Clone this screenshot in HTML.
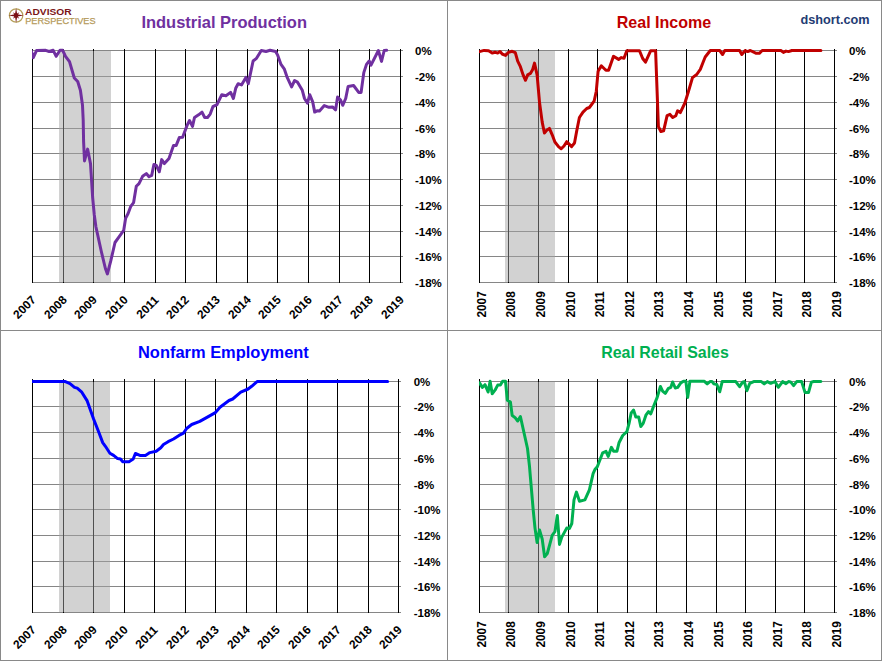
<!DOCTYPE html>
<html lang="en"><head><meta charset="utf-8"><title>Big Four Indicators: Percent Off High</title>
<style>html,body{margin:0;padding:0;background:#fff}svg{display:block}text{font-family:"Liberation Sans",Arial,sans-serif}</style></head><body>
<svg width="882" height="661" viewBox="0 0 882 661">
<rect x="0" y="0" width="882" height="661" fill="#fff"/>
<g>
<line x1="32.5" y1="50.5" x2="403" y2="50.5" stroke="#868686" stroke-width="1" shape-rendering="crispEdges"/>
<line x1="32.5" y1="76.5" x2="403" y2="76.5" stroke="#868686" stroke-width="1" shape-rendering="crispEdges"/>
<line x1="32.5" y1="102.5" x2="403" y2="102.5" stroke="#868686" stroke-width="1" shape-rendering="crispEdges"/>
<line x1="32.5" y1="128.5" x2="403" y2="128.5" stroke="#868686" stroke-width="1" shape-rendering="crispEdges"/>
<line x1="32.5" y1="153.5" x2="403" y2="153.5" stroke="#868686" stroke-width="1" shape-rendering="crispEdges"/>
<line x1="32.5" y1="179.5" x2="403" y2="179.5" stroke="#868686" stroke-width="1" shape-rendering="crispEdges"/>
<line x1="32.5" y1="205.5" x2="403" y2="205.5" stroke="#868686" stroke-width="1" shape-rendering="crispEdges"/>
<line x1="32.5" y1="231.5" x2="403" y2="231.5" stroke="#868686" stroke-width="1" shape-rendering="crispEdges"/>
<line x1="32.5" y1="256.5" x2="403" y2="256.5" stroke="#868686" stroke-width="1" shape-rendering="crispEdges"/>
<line x1="32.5" y1="282.5" x2="403" y2="282.5" stroke="#868686" stroke-width="1" shape-rendering="crispEdges"/>
<line x1="32.5" y1="49" x2="32.5" y2="283" stroke="#000" stroke-width="1" shape-rendering="crispEdges"/>
<line x1="63.5" y1="49" x2="63.5" y2="283" stroke="#000" stroke-width="1" shape-rendering="crispEdges"/>
<line x1="93.5" y1="49" x2="93.5" y2="283" stroke="#000" stroke-width="1" shape-rendering="crispEdges"/>
<line x1="124.5" y1="49" x2="124.5" y2="283" stroke="#000" stroke-width="1" shape-rendering="crispEdges"/>
<line x1="155.5" y1="49" x2="155.5" y2="283" stroke="#000" stroke-width="1" shape-rendering="crispEdges"/>
<line x1="185.5" y1="49" x2="185.5" y2="283" stroke="#000" stroke-width="1" shape-rendering="crispEdges"/>
<line x1="216.5" y1="49" x2="216.5" y2="283" stroke="#000" stroke-width="1" shape-rendering="crispEdges"/>
<line x1="247.5" y1="49" x2="247.5" y2="283" stroke="#000" stroke-width="1" shape-rendering="crispEdges"/>
<line x1="277.5" y1="49" x2="277.5" y2="283" stroke="#000" stroke-width="1" shape-rendering="crispEdges"/>
<line x1="308.5" y1="49" x2="308.5" y2="283" stroke="#000" stroke-width="1" shape-rendering="crispEdges"/>
<line x1="339.5" y1="49" x2="339.5" y2="283" stroke="#000" stroke-width="1" shape-rendering="crispEdges"/>
<line x1="369.5" y1="49" x2="369.5" y2="283" stroke="#000" stroke-width="1" shape-rendering="crispEdges"/>
<line x1="400.5" y1="49" x2="400.5" y2="283" stroke="#000" stroke-width="1" shape-rendering="crispEdges"/>
<rect x="59" y="51" width="52" height="231" fill="rgb(163,163,163)" fill-opacity="0.49"/>
<clipPath id="c0"><rect x="32" y="47" width="369" height="236"/></clipPath>
<path d="M31.2 50.5 L33.3 57.6 L36.6 50.4 L45.7 50.3 L49.1 51.5 L53.2 50.3 L56.2 56.3 L60.0 50.3 L62.7 50.3 L65.5 56.3 L69.5 61.7 L74.3 78.0 L77.7 81.5 L80.4 90.3 L82.5 105.3 L83.2 120.0 L83.6 141.8 L84.5 160.9 L87.6 149.1 L90.5 163.6 L92.7 198.1 L94.3 215.0 L95.9 226.7 L101.2 251.0 L105.4 268.5 L107.4 273.9 L110.7 261.2 L115.0 242.5 L119.2 236.7 L123.7 230.4 L125.6 218.2 L128.1 213.5 L130.8 206.3 L133.6 202.6 L136.3 186.3 L139.0 183.6 L142.6 176.3 L146.3 173.6 L149.0 176.7 L151.7 175.4 L153.9 164.5 L156.3 165.4 L159.3 171.8 L161.7 159.6 L164.4 163.6 L169.0 158.5 L173.5 145.4 L176.2 145.4 L179.3 137.6 L182.6 137.3 L187.1 125.4 L189.5 120.5 L192.5 126.4 L194.5 117.5 L198.6 114.8 L202.0 112.1 L204.7 117.5 L207.5 117.5 L210.2 114.1 L212.9 106.7 L217.0 104.6 L221.8 94.7 L225.9 95.8 L230.6 92.4 L233.4 98.5 L235.7 88.3 L238.1 83.8 L241.5 84.9 L245.9 77.4 L248.3 83.8 L253.1 61.0 L256.5 58.3 L261.3 50.5 L266.0 51.5 L270.1 50.3 L275.6 51.5 L277.6 54.9 L281.0 64.4 L284.4 69.2 L287.2 77.4 L291.6 86.9 L294.6 80.5 L297.4 82.1 L302.3 90.3 L304.5 98.5 L307.5 103.2 L309.7 94.7 L312.7 101.9 L314.7 112.1 L317.5 110.7 L319.5 111.0 L324.3 105.6 L329.0 107.3 L332.5 106.9 L335.6 109.8 L337.6 97.1 L340.6 100.1 L342.7 105.3 L345.7 98.5 L348.1 86.5 L353.6 85.5 L358.7 92.4 L361.1 92.4 L363.8 72.6 L366.5 64.4 L369.2 61.0 L371.0 65.1 L378.4 50.5 L381.5 61.4 L384.2 50.5 L386.6 50.3" clip-path="url(#c0)" fill="none" stroke="#7030A0" stroke-width="3" stroke-linejoin="round" stroke-linecap="round"/>
<text x="224.2" y="28" text-anchor="middle" font-size="16.5" font-weight="bold" fill="#7030A0" textLength="165.6" lengthAdjust="spacingAndGlyphs">Industrial Production</text>
<text x="415" y="55.1" font-size="11.5" font-weight="bold" fill="#000">0%</text>
<text x="415" y="81.1" font-size="11.5" font-weight="bold" fill="#000">-2%</text>
<text x="415" y="107.1" font-size="11.5" font-weight="bold" fill="#000">-4%</text>
<text x="415" y="133.1" font-size="11.5" font-weight="bold" fill="#000">-6%</text>
<text x="415" y="158.1" font-size="11.5" font-weight="bold" fill="#000">-8%</text>
<text x="415" y="184.1" font-size="11.5" font-weight="bold" fill="#000">-10%</text>
<text x="415" y="210.1" font-size="11.5" font-weight="bold" fill="#000">-12%</text>
<text x="415" y="236.1" font-size="11.5" font-weight="bold" fill="#000">-14%</text>
<text x="415" y="261.1" font-size="11.5" font-weight="bold" fill="#000">-16%</text>
<text x="415" y="287.1" font-size="11.5" font-weight="bold" fill="#000">-18%</text>
<text transform="translate(24.5 307.2) rotate(-45)" x="0" y="4" text-anchor="middle" font-size="11.9" font-weight="bold" fill="#000">2007</text>
<text transform="translate(55.5 307.2) rotate(-45)" x="0" y="4" text-anchor="middle" font-size="11.9" font-weight="bold" fill="#000">2008</text>
<text transform="translate(85.5 307.2) rotate(-45)" x="0" y="4" text-anchor="middle" font-size="11.9" font-weight="bold" fill="#000">2009</text>
<text transform="translate(116.5 307.2) rotate(-45)" x="0" y="4" text-anchor="middle" font-size="11.9" font-weight="bold" fill="#000">2010</text>
<text transform="translate(147.5 307.2) rotate(-45)" x="0" y="4" text-anchor="middle" font-size="11.9" font-weight="bold" fill="#000">2011</text>
<text transform="translate(177.5 307.2) rotate(-45)" x="0" y="4" text-anchor="middle" font-size="11.9" font-weight="bold" fill="#000">2012</text>
<text transform="translate(208.5 307.2) rotate(-45)" x="0" y="4" text-anchor="middle" font-size="11.9" font-weight="bold" fill="#000">2013</text>
<text transform="translate(239.5 307.2) rotate(-45)" x="0" y="4" text-anchor="middle" font-size="11.9" font-weight="bold" fill="#000">2014</text>
<text transform="translate(269.5 307.2) rotate(-45)" x="0" y="4" text-anchor="middle" font-size="11.9" font-weight="bold" fill="#000">2015</text>
<text transform="translate(300.5 307.2) rotate(-45)" x="0" y="4" text-anchor="middle" font-size="11.9" font-weight="bold" fill="#000">2016</text>
<text transform="translate(331.5 307.2) rotate(-45)" x="0" y="4" text-anchor="middle" font-size="11.9" font-weight="bold" fill="#000">2017</text>
<text transform="translate(361.5 307.2) rotate(-45)" x="0" y="4" text-anchor="middle" font-size="11.9" font-weight="bold" fill="#000">2018</text>
<text transform="translate(392.5 307.2) rotate(-45)" x="0" y="4" text-anchor="middle" font-size="11.9" font-weight="bold" fill="#000">2019</text>
</g>
<g>
<line x1="479.5" y1="50.5" x2="837" y2="50.5" stroke="#868686" stroke-width="1" shape-rendering="crispEdges"/>
<line x1="479.5" y1="76.5" x2="837" y2="76.5" stroke="#868686" stroke-width="1" shape-rendering="crispEdges"/>
<line x1="479.5" y1="102.5" x2="837" y2="102.5" stroke="#868686" stroke-width="1" shape-rendering="crispEdges"/>
<line x1="479.5" y1="128.5" x2="837" y2="128.5" stroke="#868686" stroke-width="1" shape-rendering="crispEdges"/>
<line x1="479.5" y1="153.5" x2="837" y2="153.5" stroke="#868686" stroke-width="1" shape-rendering="crispEdges"/>
<line x1="479.5" y1="179.5" x2="837" y2="179.5" stroke="#868686" stroke-width="1" shape-rendering="crispEdges"/>
<line x1="479.5" y1="205.5" x2="837" y2="205.5" stroke="#868686" stroke-width="1" shape-rendering="crispEdges"/>
<line x1="479.5" y1="231.5" x2="837" y2="231.5" stroke="#868686" stroke-width="1" shape-rendering="crispEdges"/>
<line x1="479.5" y1="256.5" x2="837" y2="256.5" stroke="#868686" stroke-width="1" shape-rendering="crispEdges"/>
<line x1="479.5" y1="282.5" x2="837" y2="282.5" stroke="#868686" stroke-width="1" shape-rendering="crispEdges"/>
<line x1="479.5" y1="49" x2="479.5" y2="283" stroke="#000" stroke-width="1" shape-rendering="crispEdges"/>
<line x1="508.5" y1="49" x2="508.5" y2="283" stroke="#000" stroke-width="1" shape-rendering="crispEdges"/>
<line x1="538.5" y1="49" x2="538.5" y2="283" stroke="#000" stroke-width="1" shape-rendering="crispEdges"/>
<line x1="568.5" y1="49" x2="568.5" y2="283" stroke="#000" stroke-width="1" shape-rendering="crispEdges"/>
<line x1="597.5" y1="49" x2="597.5" y2="283" stroke="#000" stroke-width="1" shape-rendering="crispEdges"/>
<line x1="627.5" y1="49" x2="627.5" y2="283" stroke="#000" stroke-width="1" shape-rendering="crispEdges"/>
<line x1="656.5" y1="49" x2="656.5" y2="283" stroke="#000" stroke-width="1" shape-rendering="crispEdges"/>
<line x1="686.5" y1="49" x2="686.5" y2="283" stroke="#000" stroke-width="1" shape-rendering="crispEdges"/>
<line x1="716.5" y1="49" x2="716.5" y2="283" stroke="#000" stroke-width="1" shape-rendering="crispEdges"/>
<line x1="745.5" y1="49" x2="745.5" y2="283" stroke="#000" stroke-width="1" shape-rendering="crispEdges"/>
<line x1="775.5" y1="49" x2="775.5" y2="283" stroke="#000" stroke-width="1" shape-rendering="crispEdges"/>
<line x1="804.5" y1="49" x2="804.5" y2="283" stroke="#000" stroke-width="1" shape-rendering="crispEdges"/>
<line x1="834.5" y1="49" x2="834.5" y2="283" stroke="#000" stroke-width="1" shape-rendering="crispEdges"/>
<rect x="505" y="51" width="50" height="231" fill="rgb(163,163,163)" fill-opacity="0.49"/>
<clipPath id="c1"><rect x="479" y="47" width="356" height="236"/></clipPath>
<path d="M479.5 51.6 L484.1 50.4 L488.6 50.7 L492.2 53.1 L495.0 52.2 L497.7 53.1 L500.1 51.6 L502.2 54.0 L505.5 55.4 L508.6 52.2 L512.2 51.3 L515.3 52.7 L517.7 61.2 L520.4 66.7 L523.1 74.9 L525.5 80.3 L527.7 74.9 L530.4 73.4 L532.7 69.4 L534.5 63.1 L537.1 74.9 L539.5 102.1 L542.2 122.1 L544.4 133.0 L546.7 130.2 L549.4 128.4 L552.2 134.8 L554.9 142.0 L558.5 146.6 L561.2 148.8 L564.0 146.0 L566.7 141.7 L568.9 143.9 L571.6 146.6 L574.5 143.0 L576.7 131.1 L579.4 117.5 L583.0 112.1 L586.7 108.5 L589.4 107.5 L594.1 101.2 L596.3 91.2 L598.1 71.2 L601.3 65.8 L605.9 70.3 L608.6 70.3 L613.5 56.3 L618.6 59.4 L621.3 57.6 L624.0 58.2 L626.8 50.7 L639.5 50.7 L642.7 58.5 L645.5 62.2 L650.7 50.7 L655.6 50.7 L658.4 126.6 L660.9 131.5 L663.6 130.8 L667.1 115.7 L670.0 114.4 L672.7 117.5 L675.8 115.7 L677.6 110.8 L680.3 112.6 L684.9 103.0 L688.5 91.2 L692.5 77.6 L696.7 74.5 L700.3 69.4 L702.8 63.0 L705.2 57.0 L710.3 50.5 L719.7 50.5 L722.6 54.5 L724.8 50.5 L739.6 50.5 L741.8 54.5 L745.2 50.5 L747.7 51.6 L750.3 50.5 L753.7 52.2 L756.2 53.3 L759.3 53.3 L762.2 50.5 L780.9 50.5 L783.4 52.4 L786.0 51.1 L788.5 51.6 L791.9 50.5 L820.9 50.5" clip-path="url(#c1)" fill="none" stroke="#C00000" stroke-width="3" stroke-linejoin="round" stroke-linecap="round"/>
<text x="664" y="28" text-anchor="middle" font-size="16.5" font-weight="bold" fill="#C00000" textLength="94.6" lengthAdjust="spacingAndGlyphs">Real Income</text>
<text x="849" y="55.1" font-size="11.5" font-weight="bold" fill="#000">0%</text>
<text x="849" y="81.1" font-size="11.5" font-weight="bold" fill="#000">-2%</text>
<text x="849" y="107.1" font-size="11.5" font-weight="bold" fill="#000">-4%</text>
<text x="849" y="133.1" font-size="11.5" font-weight="bold" fill="#000">-6%</text>
<text x="849" y="158.1" font-size="11.5" font-weight="bold" fill="#000">-8%</text>
<text x="849" y="184.1" font-size="11.5" font-weight="bold" fill="#000">-10%</text>
<text x="849" y="210.1" font-size="11.5" font-weight="bold" fill="#000">-12%</text>
<text x="849" y="236.1" font-size="11.5" font-weight="bold" fill="#000">-14%</text>
<text x="849" y="261.1" font-size="11.5" font-weight="bold" fill="#000">-16%</text>
<text x="849" y="287.1" font-size="11.5" font-weight="bold" fill="#000">-18%</text>
<text transform="translate(482.2 304.4) rotate(-90)" x="0" y="4" text-anchor="middle" font-size="11.9" font-weight="bold" fill="#000">2007</text>
<text transform="translate(511.2 304.4) rotate(-90)" x="0" y="4" text-anchor="middle" font-size="11.9" font-weight="bold" fill="#000">2008</text>
<text transform="translate(541.2 304.4) rotate(-90)" x="0" y="4" text-anchor="middle" font-size="11.9" font-weight="bold" fill="#000">2009</text>
<text transform="translate(571.2 304.4) rotate(-90)" x="0" y="4" text-anchor="middle" font-size="11.9" font-weight="bold" fill="#000">2010</text>
<text transform="translate(600.2 304.4) rotate(-90)" x="0" y="4" text-anchor="middle" font-size="11.9" font-weight="bold" fill="#000">2011</text>
<text transform="translate(630.2 304.4) rotate(-90)" x="0" y="4" text-anchor="middle" font-size="11.9" font-weight="bold" fill="#000">2012</text>
<text transform="translate(659.2 304.4) rotate(-90)" x="0" y="4" text-anchor="middle" font-size="11.9" font-weight="bold" fill="#000">2013</text>
<text transform="translate(689.2 304.4) rotate(-90)" x="0" y="4" text-anchor="middle" font-size="11.9" font-weight="bold" fill="#000">2014</text>
<text transform="translate(719.2 304.4) rotate(-90)" x="0" y="4" text-anchor="middle" font-size="11.9" font-weight="bold" fill="#000">2015</text>
<text transform="translate(748.2 304.4) rotate(-90)" x="0" y="4" text-anchor="middle" font-size="11.9" font-weight="bold" fill="#000">2016</text>
<text transform="translate(778.2 304.4) rotate(-90)" x="0" y="4" text-anchor="middle" font-size="11.9" font-weight="bold" fill="#000">2017</text>
<text transform="translate(807.2 304.4) rotate(-90)" x="0" y="4" text-anchor="middle" font-size="11.9" font-weight="bold" fill="#000">2018</text>
<text transform="translate(837.2 304.4) rotate(-90)" x="0" y="4" text-anchor="middle" font-size="11.9" font-weight="bold" fill="#000">2019</text>
</g>
<g>
<line x1="32.5" y1="381.5" x2="401" y2="381.5" stroke="#868686" stroke-width="1" shape-rendering="crispEdges"/>
<line x1="32.5" y1="406.5" x2="401" y2="406.5" stroke="#868686" stroke-width="1" shape-rendering="crispEdges"/>
<line x1="32.5" y1="432.5" x2="401" y2="432.5" stroke="#868686" stroke-width="1" shape-rendering="crispEdges"/>
<line x1="32.5" y1="458.5" x2="401" y2="458.5" stroke="#868686" stroke-width="1" shape-rendering="crispEdges"/>
<line x1="32.5" y1="484.5" x2="401" y2="484.5" stroke="#868686" stroke-width="1" shape-rendering="crispEdges"/>
<line x1="32.5" y1="509.5" x2="401" y2="509.5" stroke="#868686" stroke-width="1" shape-rendering="crispEdges"/>
<line x1="32.5" y1="535.5" x2="401" y2="535.5" stroke="#868686" stroke-width="1" shape-rendering="crispEdges"/>
<line x1="32.5" y1="561.5" x2="401" y2="561.5" stroke="#868686" stroke-width="1" shape-rendering="crispEdges"/>
<line x1="32.5" y1="586.5" x2="401" y2="586.5" stroke="#868686" stroke-width="1" shape-rendering="crispEdges"/>
<line x1="32.5" y1="612.5" x2="401" y2="612.5" stroke="#868686" stroke-width="1" shape-rendering="crispEdges"/>
<line x1="32.5" y1="379" x2="32.5" y2="613" stroke="#000" stroke-width="1" shape-rendering="crispEdges"/>
<line x1="63.5" y1="379" x2="63.5" y2="613" stroke="#000" stroke-width="1" shape-rendering="crispEdges"/>
<line x1="93.5" y1="379" x2="93.5" y2="613" stroke="#000" stroke-width="1" shape-rendering="crispEdges"/>
<line x1="124.5" y1="379" x2="124.5" y2="613" stroke="#000" stroke-width="1" shape-rendering="crispEdges"/>
<line x1="154.5" y1="379" x2="154.5" y2="613" stroke="#000" stroke-width="1" shape-rendering="crispEdges"/>
<line x1="185.5" y1="379" x2="185.5" y2="613" stroke="#000" stroke-width="1" shape-rendering="crispEdges"/>
<line x1="215.5" y1="379" x2="215.5" y2="613" stroke="#000" stroke-width="1" shape-rendering="crispEdges"/>
<line x1="246.5" y1="379" x2="246.5" y2="613" stroke="#000" stroke-width="1" shape-rendering="crispEdges"/>
<line x1="276.5" y1="379" x2="276.5" y2="613" stroke="#000" stroke-width="1" shape-rendering="crispEdges"/>
<line x1="307.5" y1="379" x2="307.5" y2="613" stroke="#000" stroke-width="1" shape-rendering="crispEdges"/>
<line x1="337.5" y1="379" x2="337.5" y2="613" stroke="#000" stroke-width="1" shape-rendering="crispEdges"/>
<line x1="368.5" y1="379" x2="368.5" y2="613" stroke="#000" stroke-width="1" shape-rendering="crispEdges"/>
<line x1="398.5" y1="379" x2="398.5" y2="613" stroke="#000" stroke-width="1" shape-rendering="crispEdges"/>
<rect x="59" y="382" width="51" height="230" fill="rgb(163,163,163)" fill-opacity="0.49"/>
<clipPath id="c2"><rect x="32" y="378" width="367" height="235"/></clipPath>
<path d="M32.5 381.6 L65.4 381.6 L70.0 383.6 L74.5 387.3 L77.2 388.2 L81.8 392.2 L87.2 400.9 L93.6 419.0 L99.0 432.7 L102.7 442.6 L105.4 446.3 L109.9 453.2 L113.6 455.4 L117.6 458.6 L120.5 459.0 L122.6 461.7 L129.0 461.7 L133.2 459.0 L135.4 453.5 L139.9 455.4 L145.4 455.4 L149.9 452.6 L156.2 451.2 L160.8 447.7 L163.5 444.5 L168.1 441.7 L173.5 439.0 L179.0 435.4 L183.5 433.2 L186.6 428.5 L191.7 424.5 L199.8 421.4 L215.4 412.6 L220.0 407.2 L229.0 400.5 L232.7 399.0 L240.8 392.1 L248.1 389.0 L251.7 386.3 L257.1 381.6 L387.6 381.6" clip-path="url(#c2)" fill="none" stroke="#0000FF" stroke-width="3" stroke-linejoin="round" stroke-linecap="round"/>
<text x="223.4" y="358" text-anchor="middle" font-size="16.5" font-weight="bold" fill="#0000FF" textLength="170.8" lengthAdjust="spacingAndGlyphs">Nonfarm Employment</text>
<text x="413.7" y="386.1" font-size="11.5" font-weight="bold" fill="#000">0%</text>
<text x="413.7" y="411.1" font-size="11.5" font-weight="bold" fill="#000">-2%</text>
<text x="413.7" y="437.1" font-size="11.5" font-weight="bold" fill="#000">-4%</text>
<text x="413.7" y="463.1" font-size="11.5" font-weight="bold" fill="#000">-6%</text>
<text x="413.7" y="489.1" font-size="11.5" font-weight="bold" fill="#000">-8%</text>
<text x="413.7" y="514.1" font-size="11.5" font-weight="bold" fill="#000">-10%</text>
<text x="413.7" y="540.1" font-size="11.5" font-weight="bold" fill="#000">-12%</text>
<text x="413.7" y="566.1" font-size="11.5" font-weight="bold" fill="#000">-14%</text>
<text x="413.7" y="591.1" font-size="11.5" font-weight="bold" fill="#000">-16%</text>
<text x="413.7" y="617.1" font-size="11.5" font-weight="bold" fill="#000">-18%</text>
<text transform="translate(24.5 637.2) rotate(-45)" x="0" y="4" text-anchor="middle" font-size="11.9" font-weight="bold" fill="#000">2007</text>
<text transform="translate(55.5 637.2) rotate(-45)" x="0" y="4" text-anchor="middle" font-size="11.9" font-weight="bold" fill="#000">2008</text>
<text transform="translate(85.5 637.2) rotate(-45)" x="0" y="4" text-anchor="middle" font-size="11.9" font-weight="bold" fill="#000">2009</text>
<text transform="translate(116.5 637.2) rotate(-45)" x="0" y="4" text-anchor="middle" font-size="11.9" font-weight="bold" fill="#000">2010</text>
<text transform="translate(146.5 637.2) rotate(-45)" x="0" y="4" text-anchor="middle" font-size="11.9" font-weight="bold" fill="#000">2011</text>
<text transform="translate(177.5 637.2) rotate(-45)" x="0" y="4" text-anchor="middle" font-size="11.9" font-weight="bold" fill="#000">2012</text>
<text transform="translate(207.5 637.2) rotate(-45)" x="0" y="4" text-anchor="middle" font-size="11.9" font-weight="bold" fill="#000">2013</text>
<text transform="translate(238.5 637.2) rotate(-45)" x="0" y="4" text-anchor="middle" font-size="11.9" font-weight="bold" fill="#000">2014</text>
<text transform="translate(268.5 637.2) rotate(-45)" x="0" y="4" text-anchor="middle" font-size="11.9" font-weight="bold" fill="#000">2015</text>
<text transform="translate(299.5 637.2) rotate(-45)" x="0" y="4" text-anchor="middle" font-size="11.9" font-weight="bold" fill="#000">2016</text>
<text transform="translate(329.5 637.2) rotate(-45)" x="0" y="4" text-anchor="middle" font-size="11.9" font-weight="bold" fill="#000">2017</text>
<text transform="translate(360.5 637.2) rotate(-45)" x="0" y="4" text-anchor="middle" font-size="11.9" font-weight="bold" fill="#000">2018</text>
<text transform="translate(390.5 637.2) rotate(-45)" x="0" y="4" text-anchor="middle" font-size="11.9" font-weight="bold" fill="#000">2019</text>
</g>
<g>
<line x1="479.5" y1="381.5" x2="837" y2="381.5" stroke="#868686" stroke-width="1" shape-rendering="crispEdges"/>
<line x1="479.5" y1="406.5" x2="837" y2="406.5" stroke="#868686" stroke-width="1" shape-rendering="crispEdges"/>
<line x1="479.5" y1="432.5" x2="837" y2="432.5" stroke="#868686" stroke-width="1" shape-rendering="crispEdges"/>
<line x1="479.5" y1="458.5" x2="837" y2="458.5" stroke="#868686" stroke-width="1" shape-rendering="crispEdges"/>
<line x1="479.5" y1="484.5" x2="837" y2="484.5" stroke="#868686" stroke-width="1" shape-rendering="crispEdges"/>
<line x1="479.5" y1="509.5" x2="837" y2="509.5" stroke="#868686" stroke-width="1" shape-rendering="crispEdges"/>
<line x1="479.5" y1="535.5" x2="837" y2="535.5" stroke="#868686" stroke-width="1" shape-rendering="crispEdges"/>
<line x1="479.5" y1="561.5" x2="837" y2="561.5" stroke="#868686" stroke-width="1" shape-rendering="crispEdges"/>
<line x1="479.5" y1="586.5" x2="837" y2="586.5" stroke="#868686" stroke-width="1" shape-rendering="crispEdges"/>
<line x1="479.5" y1="612.5" x2="837" y2="612.5" stroke="#868686" stroke-width="1" shape-rendering="crispEdges"/>
<line x1="479.5" y1="379" x2="479.5" y2="613" stroke="#000" stroke-width="1" shape-rendering="crispEdges"/>
<line x1="508.5" y1="379" x2="508.5" y2="613" stroke="#000" stroke-width="1" shape-rendering="crispEdges"/>
<line x1="538.5" y1="379" x2="538.5" y2="613" stroke="#000" stroke-width="1" shape-rendering="crispEdges"/>
<line x1="568.5" y1="379" x2="568.5" y2="613" stroke="#000" stroke-width="1" shape-rendering="crispEdges"/>
<line x1="597.5" y1="379" x2="597.5" y2="613" stroke="#000" stroke-width="1" shape-rendering="crispEdges"/>
<line x1="627.5" y1="379" x2="627.5" y2="613" stroke="#000" stroke-width="1" shape-rendering="crispEdges"/>
<line x1="656.5" y1="379" x2="656.5" y2="613" stroke="#000" stroke-width="1" shape-rendering="crispEdges"/>
<line x1="686.5" y1="379" x2="686.5" y2="613" stroke="#000" stroke-width="1" shape-rendering="crispEdges"/>
<line x1="716.5" y1="379" x2="716.5" y2="613" stroke="#000" stroke-width="1" shape-rendering="crispEdges"/>
<line x1="745.5" y1="379" x2="745.5" y2="613" stroke="#000" stroke-width="1" shape-rendering="crispEdges"/>
<line x1="775.5" y1="379" x2="775.5" y2="613" stroke="#000" stroke-width="1" shape-rendering="crispEdges"/>
<line x1="804.5" y1="379" x2="804.5" y2="613" stroke="#000" stroke-width="1" shape-rendering="crispEdges"/>
<line x1="834.5" y1="379" x2="834.5" y2="613" stroke="#000" stroke-width="1" shape-rendering="crispEdges"/>
<rect x="505" y="382" width="50" height="230" fill="rgb(163,163,163)" fill-opacity="0.49"/>
<clipPath id="c3"><rect x="479" y="378" width="356" height="235"/></clipPath>
<path d="M479.5 382.9 L482.3 387.4 L485.0 384.7 L488.1 392.0 L490.1 381.3 L492.2 393.8 L495.0 390.2 L497.7 385.1 L500.4 385.1 L502.6 381.3 L505.5 381.3 L507.3 400.1 L510.4 402.0 L512.2 415.6 L514.9 417.4 L517.7 421.0 L520.4 416.5 L524.0 432.8 L527.5 448.5 L529.5 466.4 L530.4 477.2 L533.2 509.9 L535.0 528.1 L537.1 542.6 L539.5 529.9 L542.2 539.0 L544.6 556.8 L547.3 553.5 L552.2 535.3 L554.9 531.7 L557.3 515.4 L559.5 544.4 L561.8 537.1 L566.7 528.1 L569.5 528.4 L571.8 523.5 L574.0 499.9 L576.4 492.1 L579.5 501.2 L584.9 499.9 L589.4 489.9 L593.1 473.6 L594.9 469.6 L597.3 466.8 L602.7 452.8 L606.0 451.3 L608.2 456.4 L611.4 447.3 L613.6 451.3 L616.9 451.3 L619.0 442.8 L622.7 435.5 L626.9 431.6 L629.0 423.7 L631.2 412.9 L633.6 410.1 L635.8 417.0 L638.7 417.0 L640.8 426.5 L643.2 423.4 L645.9 415.2 L648.5 411.6 L650.8 413.8 L653.5 406.5 L657.2 397.4 L660.4 386.5 L662.6 391.1 L665.3 393.4 L668.1 388.7 L670.8 387.4 L672.6 382.0 L675.3 388.0 L677.7 387.4 L680.8 382.9 L683.5 381.3 L685.9 381.3 L687.7 397.4 L689.9 381.3 L704.4 381.3 L707.2 383.9 L710.0 381.6 L712.0 381.6 L714.0 383.9 L716.8 384.5 L719.7 391.8 L722.2 381.6 L735.8 381.6 L739.6 386.7 L742.6 382.2 L744.3 381.6 L746.9 390.7 L749.8 383.3 L753.7 381.6 L761.3 381.6 L764.2 383.9 L767.3 381.6 L770.7 383.3 L774.9 381.6 L778.3 387.3 L782.6 381.6 L786.0 383.6 L788.5 381.6 L790.6 381.9 L793.6 385.6 L796.7 381.6 L801.6 381.6 L805.1 392.6 L808.5 392.6 L811.4 382.1 L813.8 381.5 L820.9 381.6" clip-path="url(#c3)" fill="none" stroke="#00B050" stroke-width="3" stroke-linejoin="round" stroke-linecap="round"/>
<text x="665" y="358" text-anchor="middle" font-size="16.5" font-weight="bold" fill="#00B050" textLength="127.7" lengthAdjust="spacingAndGlyphs">Real Retail Sales</text>
<text x="849" y="386.1" font-size="11.5" font-weight="bold" fill="#000">0%</text>
<text x="849" y="411.1" font-size="11.5" font-weight="bold" fill="#000">-2%</text>
<text x="849" y="437.1" font-size="11.5" font-weight="bold" fill="#000">-4%</text>
<text x="849" y="463.1" font-size="11.5" font-weight="bold" fill="#000">-6%</text>
<text x="849" y="489.1" font-size="11.5" font-weight="bold" fill="#000">-8%</text>
<text x="849" y="514.1" font-size="11.5" font-weight="bold" fill="#000">-10%</text>
<text x="849" y="540.1" font-size="11.5" font-weight="bold" fill="#000">-12%</text>
<text x="849" y="566.1" font-size="11.5" font-weight="bold" fill="#000">-14%</text>
<text x="849" y="591.1" font-size="11.5" font-weight="bold" fill="#000">-16%</text>
<text x="849" y="617.1" font-size="11.5" font-weight="bold" fill="#000">-18%</text>
<text transform="translate(482.2 634.4) rotate(-90)" x="0" y="4" text-anchor="middle" font-size="11.9" font-weight="bold" fill="#000">2007</text>
<text transform="translate(511.2 634.4) rotate(-90)" x="0" y="4" text-anchor="middle" font-size="11.9" font-weight="bold" fill="#000">2008</text>
<text transform="translate(541.2 634.4) rotate(-90)" x="0" y="4" text-anchor="middle" font-size="11.9" font-weight="bold" fill="#000">2009</text>
<text transform="translate(571.2 634.4) rotate(-90)" x="0" y="4" text-anchor="middle" font-size="11.9" font-weight="bold" fill="#000">2010</text>
<text transform="translate(600.2 634.4) rotate(-90)" x="0" y="4" text-anchor="middle" font-size="11.9" font-weight="bold" fill="#000">2011</text>
<text transform="translate(630.2 634.4) rotate(-90)" x="0" y="4" text-anchor="middle" font-size="11.9" font-weight="bold" fill="#000">2012</text>
<text transform="translate(659.2 634.4) rotate(-90)" x="0" y="4" text-anchor="middle" font-size="11.9" font-weight="bold" fill="#000">2013</text>
<text transform="translate(689.2 634.4) rotate(-90)" x="0" y="4" text-anchor="middle" font-size="11.9" font-weight="bold" fill="#000">2014</text>
<text transform="translate(719.2 634.4) rotate(-90)" x="0" y="4" text-anchor="middle" font-size="11.9" font-weight="bold" fill="#000">2015</text>
<text transform="translate(748.2 634.4) rotate(-90)" x="0" y="4" text-anchor="middle" font-size="11.9" font-weight="bold" fill="#000">2016</text>
<text transform="translate(778.2 634.4) rotate(-90)" x="0" y="4" text-anchor="middle" font-size="11.9" font-weight="bold" fill="#000">2017</text>
<text transform="translate(807.2 634.4) rotate(-90)" x="0" y="4" text-anchor="middle" font-size="11.9" font-weight="bold" fill="#000">2018</text>
<text transform="translate(837.2 634.4) rotate(-90)" x="0" y="4" text-anchor="middle" font-size="11.9" font-weight="bold" fill="#000">2019</text>
</g>
<g shape-rendering="crispEdges" stroke="#898989" stroke-width="1" fill="none">
<rect x="0.5" y="0.5" width="881" height="660"/>
<line x1="447.5" y1="0" x2="447.5" y2="661"/><line x1="0" y1="330.5" x2="882" y2="330.5"/></g>
<text x="835" y="24" text-anchor="middle" font-size="13.6" font-weight="bold" fill="#1F3B73" textLength="69" lengthAdjust="spacingAndGlyphs">dshort.com</text>
<g><circle cx="16.1" cy="15.45" r="6.7" fill="none" stroke="#B5A05A" stroke-width="1.25"/>
<path d="M16.1 7.9 L17.2 14.35 L23.7 15.45 L17.2 16.55 L16.1 23 L15 16.55 L8.5 15.45 L15 14.35 Z" fill="#7B1014"/>
<path d="M12.9 12.25 L16.1 14.2 L19.3 12.25 L17.35 15.45 L19.3 18.65 L16.1 16.7 L12.9 18.65 L14.85 15.45 Z" fill="#7B1014"/>
<circle cx="16.1" cy="15.45" r="2.1" fill="#7B1014"/>
<text x="25.1" y="15" font-size="9.5" font-weight="bold" fill="#7B1519" textLength="46.6" lengthAdjust="spacingAndGlyphs">ADVISOR</text>
<text x="25.2" y="23.6" font-size="9.6" fill="#B59A5A" stroke="#B59A5A" stroke-width="0.25" textLength="70.4" lengthAdjust="spacingAndGlyphs">PERSPECTIVES</text></g>
</svg></body></html>
